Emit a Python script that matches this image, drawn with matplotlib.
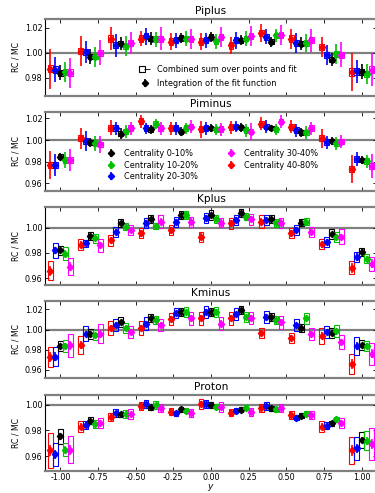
import numpy as np
import matplotlib
matplotlib.use("Agg")
import matplotlib.pyplot as plt
from matplotlib.patches import Rectangle
from matplotlib.lines import Line2D
from matplotlib.legend_handler import HandlerTuple
from matplotlib.ticker import FormatStrFormatter

# Rapidity bin centres
y_bins = [-1.0, -0.8, -0.6, -0.4, -0.2, 0.0, 0.2, 0.4, 0.6, 0.8, 1.0]
centralities = ["Centrality 0-10%", "Centrality 10-20%", "Centrality 20-30%",
                "Centrality 30-40%", "Centrality 40-80%"]

# ---- Piplus: rows = 0-10, 10-20, 20-30, 30-40, 40-80 ----
piplus_val = [
    [0.9840, 0.9970, 1.0075, 1.0115, 1.0120, 1.0128, 1.0100, 1.0090, 1.0075, 0.9947, 0.9848],
    [0.9850, 0.9970, 1.0053, 1.0110, 1.0115, 1.0093, 1.0115, 1.0140, 1.0080, 0.9990, 0.9830],
    [0.9867, 1.0010, 1.0060, 1.0133, 1.0100, 1.0100, 1.0100, 1.0128, 1.0080, 0.9980, 0.9853],
    [0.9840, 1.0000, 1.0080, 1.0115, 1.0110, 1.0128, 1.0133, 1.0140, 1.0100, 0.9987, 0.9867],
    [0.9875, 1.0016, 1.0115, 1.0115, 1.0090, 1.0090, 1.0060, 1.0160, 1.0115, 1.0048, 0.9848],
]
piplus_err = [
    [0.006, 0.006, 0.005, 0.005, 0.004, 0.004, 0.004, 0.004, 0.005, 0.005, 0.006],
    [0.008, 0.008, 0.008, 0.006, 0.006, 0.006, 0.006, 0.005, 0.007, 0.008, 0.008],
    [0.010, 0.009, 0.009, 0.007, 0.006, 0.006, 0.007, 0.006, 0.008, 0.008, 0.009],
    [0.012, 0.010, 0.009, 0.009, 0.008, 0.008, 0.008, 0.008, 0.009, 0.010, 0.013],
    [0.016, 0.012, 0.009, 0.006, 0.007, 0.007, 0.007, 0.007, 0.008, 0.008, 0.015],
]
piplus_sys = [
    [0.0025, 0.0022, 0.0022, 0.0022, 0.0022, 0.0022, 0.0022, 0.0022, 0.0022, 0.0022, 0.0025],
    [0.0025, 0.0022, 0.0022, 0.0022, 0.0022, 0.0022, 0.0022, 0.0022, 0.0022, 0.0022, 0.0025],
    [0.0028, 0.0024, 0.0024, 0.0024, 0.0024, 0.0024, 0.0024, 0.0024, 0.0024, 0.0024, 0.0028],
    [0.0028, 0.0024, 0.0024, 0.0024, 0.0024, 0.0024, 0.0024, 0.0024, 0.0024, 0.0024, 0.0028],
    [0.0030, 0.0026, 0.0026, 0.0026, 0.0026, 0.0026, 0.0026, 0.0026, 0.0026, 0.0026, 0.0030],
]

# ---- Piminus ----
piminus_val = [
    [0.9846, 0.9980, 1.0060, 1.0100, 1.0077, 1.0110, 1.0117, 1.0110, 1.0070, 0.9990, 0.9815],
    [0.9815, 0.9970, 1.0080, 1.0148, 1.0110, 1.0098, 1.0092, 1.0100, 1.0070, 0.9970, 0.9806],
    [0.9770, 0.9990, 1.0110, 1.0110, 1.0110, 1.0110, 1.0123, 1.0123, 1.0092, 0.9980, 0.9825],
    [0.9815, 0.9960, 1.0110, 1.0110, 1.0123, 1.0100, 1.0077, 1.0170, 1.0110, 0.9985, 0.9760],
    [0.9770, 1.0015, 1.0114, 1.0175, 1.0110, 1.0098, 1.0117, 1.0148, 1.0123, 1.0015, 0.9732],
]
piminus_err = [
    [0.003, 0.004, 0.005, 0.004, 0.004, 0.004, 0.004, 0.003, 0.004, 0.004, 0.004],
    [0.007, 0.007, 0.006, 0.005, 0.005, 0.005, 0.006, 0.005, 0.006, 0.006, 0.006],
    [0.010, 0.009, 0.006, 0.005, 0.006, 0.006, 0.005, 0.006, 0.006, 0.006, 0.006],
    [0.010, 0.008, 0.006, 0.006, 0.006, 0.006, 0.008, 0.006, 0.006, 0.006, 0.011],
    [0.013, 0.010, 0.007, 0.006, 0.006, 0.008, 0.006, 0.006, 0.006, 0.009, 0.013],
]
piminus_sys = [
    [0.0022, 0.0022, 0.0022, 0.0022, 0.0022, 0.0022, 0.0022, 0.0022, 0.0022, 0.0022, 0.0022],
    [0.0024, 0.0024, 0.0024, 0.0024, 0.0024, 0.0024, 0.0024, 0.0024, 0.0024, 0.0024, 0.0024],
    [0.0028, 0.0026, 0.0026, 0.0026, 0.0026, 0.0026, 0.0026, 0.0026, 0.0026, 0.0026, 0.0028],
    [0.0028, 0.0026, 0.0026, 0.0026, 0.0026, 0.0026, 0.0026, 0.0026, 0.0026, 0.0026, 0.0030],
    [0.0030, 0.0028, 0.0028, 0.0028, 0.0028, 0.0028, 0.0028, 0.0028, 0.0028, 0.0028, 0.0030],
]

# ---- Kplus ----
kplus_val = [
    [0.9821, 0.9933, 1.0035, 1.0067, 1.0101, 1.0101, 1.0115, 1.0067, 1.0040, 0.9949, 0.9808],
    [0.9795, 0.9915, 1.0008, 1.0013, 1.0101, 1.0067, 1.0088, 1.0035, 1.0048, 0.9923, 0.9755],
    [0.9821, 0.9875, 0.9968, 1.0035, 1.0048, 1.0075, 1.0061, 1.0061, 0.9981, 0.9888, 0.9768],
    [0.9693, 0.9861, 0.9981, 1.0048, 1.0048, 1.0040, 1.0067, 1.0040, 0.9968, 0.9928, 0.9715],
    [0.9661, 0.9867, 0.9901, 0.9955, 0.9981, 0.9928, 1.0035, 1.0048, 0.9955, 0.9869, 0.9683],
]
kplus_err = [
    [0.0020, 0.0018, 0.0018, 0.0018, 0.0018, 0.0018, 0.0018, 0.0018, 0.0018, 0.0018, 0.0020],
    [0.0025, 0.0020, 0.0020, 0.0020, 0.0020, 0.0020, 0.0020, 0.0020, 0.0020, 0.0020, 0.0025],
    [0.0030, 0.0022, 0.0022, 0.0022, 0.0022, 0.0022, 0.0022, 0.0022, 0.0022, 0.0022, 0.0030],
    [0.0035, 0.0025, 0.0025, 0.0025, 0.0025, 0.0025, 0.0025, 0.0025, 0.0025, 0.0025, 0.0035],
    [0.0040, 0.0028, 0.0028, 0.0028, 0.0028, 0.0028, 0.0028, 0.0028, 0.0028, 0.0028, 0.0040],
]
kplus_sys = [
    [0.0036, 0.0030, 0.0030, 0.0030, 0.0030, 0.0040, 0.0030, 0.0030, 0.0030, 0.0040, 0.0030],
    [0.0050, 0.0035, 0.0030, 0.0025, 0.0030, 0.0030, 0.0030, 0.0030, 0.0030, 0.0040, 0.0035],
    [0.0060, 0.0030, 0.0040, 0.0040, 0.0040, 0.0040, 0.0040, 0.0040, 0.0040, 0.0040, 0.0040],
    [0.0070, 0.0050, 0.0040, 0.0050, 0.0040, 0.0035, 0.0045, 0.0040, 0.0040, 0.0060, 0.0055],
    [0.0073, 0.0040, 0.0045, 0.0040, 0.0040, 0.0040, 0.0045, 0.0050, 0.0040, 0.0040, 0.0050],
]

# ---- Kminus ----
kminus_val = [
    [0.9833, 0.9960, 1.0077, 1.0110, 1.0177, 1.0177, 1.0193, 1.0127, 1.0017, 0.9970, 0.9843],
    [0.9833, 0.9943, 1.0017, 1.0093, 1.0170, 1.0177, 1.0127, 1.0093, 1.0110, 0.9983, 0.9833],
    [0.9733, 0.9960, 1.0043, 1.0060, 1.0160, 1.0177, 1.0150, 1.0127, 1.0043, 0.9977, 0.9833],
    [0.9843, 0.9960, 0.9977, 1.0043, 1.0110, 1.0060, 1.0117, 1.0070, 0.9960, 0.9877, 0.9760],
    [0.9730, 0.9843, 1.0017, 1.0017, 1.0103, 1.0110, 1.0110, 0.9970, 0.9917, 0.9937, 0.9660],
]
kminus_err = [
    [0.0025, 0.0022, 0.0022, 0.0020, 0.0020, 0.0020, 0.0020, 0.0020, 0.0020, 0.0022, 0.0025],
    [0.0030, 0.0025, 0.0025, 0.0022, 0.0022, 0.0022, 0.0022, 0.0022, 0.0022, 0.0025, 0.0030],
    [0.0040, 0.0030, 0.0028, 0.0028, 0.0025, 0.0025, 0.0025, 0.0025, 0.0025, 0.0028, 0.0040],
    [0.0045, 0.0035, 0.0030, 0.0030, 0.0030, 0.0030, 0.0030, 0.0030, 0.0030, 0.0030, 0.0045],
    [0.0050, 0.0040, 0.0032, 0.0032, 0.0030, 0.0030, 0.0030, 0.0028, 0.0028, 0.0035, 0.0050],
]
kminus_sys = [
    [0.0050, 0.0050, 0.0050, 0.0040, 0.0040, 0.0040, 0.0040, 0.0040, 0.0040, 0.0050, 0.0050],
    [0.0060, 0.0050, 0.0050, 0.0040, 0.0050, 0.0050, 0.0050, 0.0040, 0.0050, 0.0060, 0.0050],
    [0.0090, 0.0075, 0.0060, 0.0060, 0.0050, 0.0060, 0.0060, 0.0060, 0.0060, 0.0060, 0.0090],
    [0.0110, 0.0095, 0.0060, 0.0060, 0.0060, 0.0060, 0.0060, 0.0060, 0.0060, 0.0070, 0.0110],
    [0.0100, 0.0090, 0.0070, 0.0070, 0.0060, 0.0060, 0.0060, 0.0050, 0.0050, 0.0080, 0.0100],
]

# ---- Proton ----
proton_val = [
    [0.9753, 0.9878, 0.9927, 0.9982, 0.9966, 1.0000, 0.9961, 0.9974, 0.9914, 0.9857, 0.9727],
    [0.9650, 0.9852, 0.9927, 1.0000, 0.9956, 0.9987, 0.9979, 0.9966, 0.9930, 0.9888, 0.9720],
    [0.9615, 0.9844, 0.9935, 1.0008, 0.9935, 1.0005, 0.9956, 0.9992, 0.9901, 0.9839, 0.9662],
    [0.9650, 0.9857, 0.9927, 0.9974, 0.9935, 0.9987, 0.9943, 0.9974, 0.9922, 0.9857, 0.9696],
    [0.9645, 0.9831, 0.9904, 0.9992, 0.9948, 1.0008, 0.9940, 0.9974, 0.9922, 0.9831, 0.9644],
]
proton_err = [
    [0.0025, 0.0015, 0.0012, 0.0012, 0.0012, 0.0012, 0.0012, 0.0012, 0.0012, 0.0015, 0.0025],
    [0.0030, 0.0018, 0.0015, 0.0015, 0.0015, 0.0015, 0.0015, 0.0015, 0.0015, 0.0018, 0.0030],
    [0.0035, 0.0020, 0.0018, 0.0018, 0.0015, 0.0018, 0.0015, 0.0018, 0.0015, 0.0020, 0.0035],
    [0.0040, 0.0022, 0.0020, 0.0020, 0.0020, 0.0020, 0.0020, 0.0020, 0.0020, 0.0022, 0.0040],
    [0.0045, 0.0025, 0.0022, 0.0022, 0.0022, 0.0022, 0.0022, 0.0022, 0.0022, 0.0025, 0.0045],
]
proton_sys = [
    [0.0060, 0.0030, 0.0020, 0.0020, 0.0020, 0.0020, 0.0020, 0.0020, 0.0020, 0.0020, 0.0065],
    [0.0050, 0.0030, 0.0030, 0.0030, 0.0020, 0.0020, 0.0020, 0.0020, 0.0020, 0.0020, 0.0075],
    [0.0090, 0.0030, 0.0030, 0.0030, 0.0020, 0.0030, 0.0020, 0.0030, 0.0020, 0.0030, 0.0090],
    [0.0107, 0.0040, 0.0040, 0.0030, 0.0030, 0.0040, 0.0030, 0.0030, 0.0030, 0.0040, 0.0126],
    [0.0138, 0.0040, 0.0030, 0.0030, 0.0030, 0.0040, 0.0030, 0.0030, 0.0030, 0.0040, 0.0108],
]

panels = [
    ("Piplus", piplus_val, piplus_err, piplus_sys),
    ("Piminus", piminus_val, piminus_err, piminus_sys),
    ("Kplus", kplus_val, kplus_err, kplus_sys),
    ("Kminus", kminus_val, kminus_err, kminus_sys),
    ("Proton", proton_val, proton_err, proton_sys),
]

# ---- styling ----
colors = ["black", "#00c000", "#0000ff", "#ff00ff", "#ff0000"]
x_shift = [0.0, 0.033, -0.033, 0.066, -0.066]
draw_order = [4, 2, 0, 1, 3]
box_w = 0.030
grey = "#808080"

W, H = 375, 493
fig = plt.figure(figsize=(W / 100, H / 100), dpi=100)

# axes frames in pixels: (top, bottom), and y limits
frames = [(19, 96), (111.7, 191), (207.3, 285), (300.7, 378), (395, 470.7)]
ylims = [(0.9656, 1.0272), (0.9530, 1.0261), (0.9547, 1.0161), (0.9520, 1.0286), (0.9485, 1.0078)]
left_px, right_px = 45.3, 376.7

axes = []
for k, (name, val, err, sys) in enumerate(panels):
    top, bot = frames[k]
    ax = fig.add_axes([left_px / W, (H - bot) / H, (right_px - left_px) / W, (bot - top) / H])
    axes.append(ax)
    ax.axhline(1.0, color=grey, lw=1.6, zorder=1)
    handles = {}
    for i in draw_order:
        c = colors[i]
        xs = np.array(y_bins) + x_shift[i]
        v = np.array(val[i])
        s = np.array(sys[i])
        for xx, vv, ss in zip(xs, v, s):
            ax.add_patch(Rectangle((xx - box_w / 2, vv - ss), box_w, 2 * ss,
                                   fill=False, ec=c, lw=0.8, zorder=3))
            ax.plot([xx - box_w / 2, xx + box_w / 2], [vv, vv], color=c, lw=0.5, zorder=3)
        h = ax.errorbar(xs, v, yerr=err[i], fmt="D", ms=3.2, color=c, mec=c,
                        elinewidth=1.2, capsize=0, zorder=4)
        handles[i] = h

    ax.set_xlim(-1.10, 1.10)
    ax.set_ylim(*ylims[k])
    ax.set_title(name, fontsize=7.6, pad=3.5)
    ax.set_ylabel("RC / MC", fontsize=5.6, labelpad=3)
    ax.set_xticks(np.arange(-1.0, 1.01, 0.25))
    ax.set_yticks([t for t in [0.96, 0.98, 1.00, 1.02] if ylims[k][0] < t < ylims[k][1]])
    ax.yaxis.set_major_formatter(FormatStrFormatter("%.2f"))
    ax.xaxis.set_major_formatter(FormatStrFormatter("%.2f"))
    ax.tick_params(direction="in", top=True, right=True, length=3, width=0.6,
                   labelsize=5.8, pad=2)
    if k < len(panels) - 1:
        ax.tick_params(labelbottom=False)
    for side in ("top", "bottom"):
        ax.spines[side].set_color(grey)
        ax.spines[side].set_linewidth(1.6)
    ax.spines["left"].set_color("black")
    ax.spines["left"].set_linewidth(0.8)
    ax.spines["right"].set_color(grey)

    if k == 0:
        box_handle = (Line2D([], [], ls="none", marker="s", ms=4.5, mfc="none", mec="black", mew=0.8),
                      Line2D([], [], ls="none", marker="_", ms=4.5, color="black", mew=0.6))
        ax.legend([box_handle, handles[0]],
                  ["Combined sum over points and fit", "Integration of the fit function"],
                  handler_map={tuple: HandlerTuple(ndivide=None)},
                  loc="upper left", bbox_to_anchor=(0.27, 0.48), frameon=False,
                  fontsize=5.9, handlelength=1.0, handletextpad=1.0, labelspacing=0.6,
                  borderpad=0.2)
    if k == 1:
        ax.legend([handles[i] for i in range(5)], centralities, ncol=2,
                  loc="upper left", bbox_to_anchor=(0.17, 0.60), frameon=False,
                  fontsize=5.9, handlelength=1.0, handletextpad=1.0, labelspacing=0.3,
                  columnspacing=3.6, borderpad=0.2)

axes[-1].set_xlabel("$y$", fontsize=6.5, labelpad=-0.5)

fig.savefig("out.png", dpi=100)
